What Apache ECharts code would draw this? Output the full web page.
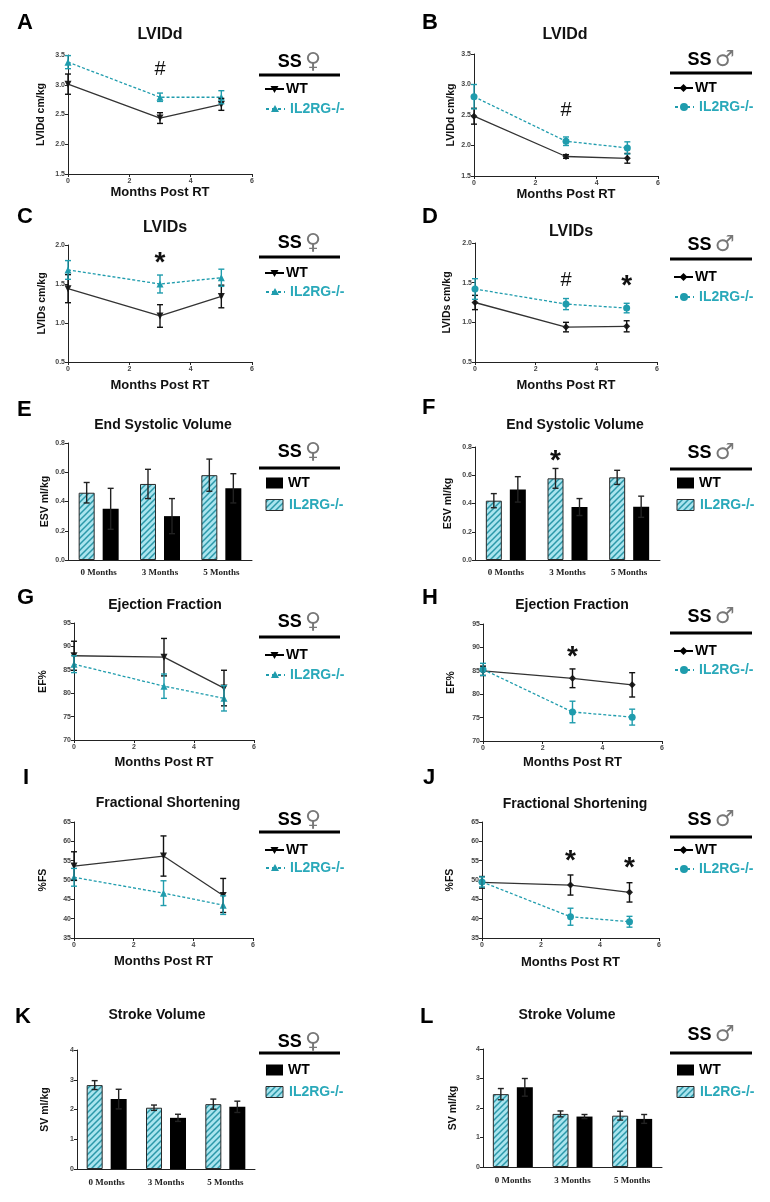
<!DOCTYPE html>
<html><head><meta charset="utf-8">
<script src="https://cdn.jsdelivr.net/npm/echarts@6/dist/echarts.min.js"></script>
<style>html,body{margin:0;padding:0;background:#fff}#c{width:770px;height:1202px}</style>
</head><body><div id="c"></div>
<script>
// ---------------- DATA ----------------
const lineMonths = [0, 3, 5];
const barCategories = ['0 Months', '3 Months', '5 Months'];

// A: LVIDd, female
const A_wt = [3.01, 2.44, 2.67], A_wtErr = [0.17, 0.09, 0.10];
const A_ko = [3.38, 2.79, 2.79], A_koErr = [0.11, 0.07, 0.11];
// B: LVIDd, male
const B_wt = [2.48, 1.82, 1.79], B_wtErr = [0.13, 0.03, 0.08];
const B_ko = [2.80, 2.07, 1.96], B_koErr = [0.20, 0.07, 0.10];
// C: LVIDs, female
const C_wt = [1.44, 1.09, 1.34], C_wtErr = [0.18, 0.145, 0.145];
const C_ko = [1.68, 1.50, 1.58], C_koErr = [0.12, 0.115, 0.11];
// D: LVIDs, male
const D_wt = [1.25, 0.94, 0.95], D_wtErr = [0.09, 0.06, 0.07];
const D_ko = [1.42, 1.23, 1.18], D_koErr = [0.13, 0.07, 0.06];
// E: ESV, female (bars)
const E_ko = [0.46, 0.52, 0.58], E_koErr = [0.07, 0.10, 0.11];
const E_wt = [0.35, 0.30, 0.49], E_wtErr = [0.14, 0.12, 0.10];
// F: ESV, male (bars)
const F_ko = [0.42, 0.578, 0.585], F_koErr = [0.05, 0.07, 0.05];
const F_wt = [0.50, 0.375, 0.377], F_wtErr = [0.09, 0.06, 0.075];
// G: EF, female
const G_wt = [88.0, 87.7, 81.1], G_wtErr = [3.1, 4.0, 3.8];
const G_ko = [86.2, 81.5, 78.9], G_koErr = [1.8, 2.6, 2.7];
// H: EF, male
const H_wt = [85.0, 83.4, 82.0], H_wtErr = [1.0, 2.0, 2.6];
const H_ko = [85.3, 76.2, 75.1], H_koErr = [1.3, 2.3, 1.7];
// I: FS, female
const I_wt = [53.6, 56.2, 46.0], I_wtErr = [3.7, 5.2, 4.4];
const I_ko = [50.7, 46.6, 43.5], I_koErr = [2.3, 3.2, 2.4];
// J: FS, male
const J_wt = [49.4, 48.7, 46.8], J_wtErr = [1.5, 2.6, 2.5];
const J_ko = [49.5, 40.5, 39.2], J_koErr = [1.3, 2.2, 1.4];
// K: SV, female (bars)
const K_ko = [2.82, 2.06, 2.18], K_koErr = [0.15, 0.09, 0.17];
const K_wt = [2.35, 1.72, 2.09], K_wtErr = [0.33, 0.12, 0.19];
// L: SV, male (bars)
const L_ko = [2.47, 1.80, 1.74], L_koErr = [0.19, 0.10, 0.15];
const L_wt = [2.70, 1.71, 1.63], L_wtErr = [0.30, 0.07, 0.15];

// significance annotations [x, y, symbol]
const A_sig = [[3, 3.26, '#']];
const B_sig = [[3, 2.58, '#']];
const C_sig = [[3, 1.76, '*']];
const D_sig = [[3, 1.53, '#'], [5, 1.46, '*']];
const F_sig = [['3 Months', 0.70, '*']];
const H_sig = [[3, 87.9, '*']];
const J_sig = [[3, 54.8, '*'], [5, 53.0, '*']];

const seriesNames = ['WT', 'IL2RG-/-'];

// ---------------- STYLE / LAYOUT ----------------
const FONT = 'Liberation Sans';
const TEAL = '#1f9cad', TEAL_TXT = '#2aa9ba', DARK = '#222';

function makeHatch() {
  const c = document.createElement('canvas'); c.width = 6; c.height = 6;
  const g = c.getContext('2d');
  g.fillStyle = '#a9e4ee'; g.fillRect(0, 0, 6, 6);
  g.strokeStyle = '#2b98a9'; g.lineWidth = 1.5;
  g.beginPath();
  g.moveTo(0, 6); g.lineTo(6, 0);
  g.moveTo(-3, 3); g.lineTo(3, -3);
  g.moveTo(3, 9); g.lineTo(9, 3);
  g.stroke();
  return c;
}
const hatch = makeHatch();

const grids = [], xAxes = [], yAxes = [], series = [], graphics = [];

function errSeries(gi, xs, means, errs, color, offset) {
  return {
    type: 'custom', xAxisIndex: gi, yAxisIndex: gi, z: 6, silent: true,
    data: means.map((m, i) => [xs[i], m, errs[i]]),
    renderItem(params, api) {
      const x = api.value(0), m = api.value(1), e = api.value(2);
      const t = api.coord([x, m + e]), b = api.coord([x, m - e]);
      const cx = t[0] + offset, w = 3;
      const st = { stroke: color, lineWidth: 1.4 };
      return { type: 'group', children: [
        { type: 'line', shape: { x1: cx, y1: t[1], x2: cx, y2: b[1] }, style: st },
        { type: 'line', shape: { x1: cx - w, y1: t[1], x2: cx + w, y2: t[1] }, style: st },
        { type: 'line', shape: { x1: cx - w, y1: b[1], x2: cx + w, y2: b[1] }, style: st }
      ]};
    }
  };
}

function sigMark(sig) {
  if (!sig) return undefined;
  return {
    symbol: 'circle', symbolSize: 1, itemStyle: { color: 'rgba(0,0,0,0)' },
    data: sig.map(s => ({
      coord: [s[0], s[1]],
      label: { show: true, position: 'inside', formatter: s[2], color: '#111',
        fontFamily: FONT, fontWeight: s[2] === '*' ? 'bold' : 'normal', fontSize: s[2] === '*' ? 28 : 20 }
    }))
  };
}

function markerShape(kind, cx, cy, color) {
  if (kind === 'tdown') return { type: 'polygon', shape: { points: [[cx - 4, cy - 3], [cx + 4, cy - 3], [cx, cy + 4]] }, style: { fill: color } };
  if (kind === 'tup') return { type: 'polygon', shape: { points: [[cx - 4, cy + 3], [cx + 4, cy + 3], [cx, cy - 4]] }, style: { fill: color } };
  if (kind === 'diamond') return { type: 'polygon', shape: { points: [[cx, cy - 4], [cx + 4, cy], [cx, cy + 4], [cx - 4, cy]] }, style: { fill: color } };
  return { type: 'circle', shape: { cx, cy, r: 4 }, style: { fill: color } };
}

function txt(text, x, y, font, fill, align) {
  return { type: 'text', x, y, silent: true, style: { text, font, fill, textAlign: align || 'center', align: align || 'center', textVerticalAlign: 'middle', verticalAlign: 'middle' } };
}

function addPanel(p) {
  const gi = grids.length;
  const isBar = p.kind === 'bar';
  grids.push({ left: p.g[0], top: p.g[1], width: p.g[2], height: p.g[3] });

  if (isBar) {
    xAxes.push({ type: 'category', gridIndex: gi, data: barCategories, boundaryGap: true,
      axisLine: { lineStyle: { color: DARK, width: 1 } },
      axisTick: { alignWithLabel: true, length: 3, lineStyle: { color: DARK } },
      axisLabel: { fontFamily: 'Liberation Serif', fontWeight: 'bold', fontSize: 9, color: '#222', margin: p.xm } });
  } else {
    xAxes.push({ type: 'value', gridIndex: gi, min: 0, max: 6, interval: 2,
      name: 'Months Post RT', nameLocation: 'middle', nameGap: p.xg,
      nameTextStyle: { fontFamily: FONT, fontWeight: 'bold', fontSize: 13, color: '#111' },
      axisLine: { onZero: false, lineStyle: { color: DARK, width: 1 } },
      axisTick: { length: 3, lineStyle: { color: DARK } },
      axisLabel: { fontFamily: FONT, fontWeight: 'bold', fontSize: 7, color: '#444', margin: 4 },
      splitLine: { show: false } });
  }
  const dec = p.y[3];
  yAxes.push({ type: 'value', gridIndex: gi, min: p.y[0], max: p.y[1], interval: p.y[2],
    name: p.yname, nameLocation: 'middle', nameGap: p.yg, nameRotate: 90,
    nameTextStyle: { fontFamily: FONT, fontWeight: 'bold', fontSize: 10.5, color: '#111' },
    axisLine: { show: true, onZero: false, lineStyle: { color: DARK, width: 1 } },
    axisTick: { show: true, length: 3, lineStyle: { color: DARK } },
    axisLabel: { fontFamily: FONT, fontWeight: 'bold', fontSize: 7, color: '#444', margin: 3, formatter: v => v.toFixed(dec) },
    splitLine: { show: false } });

  if (isBar) {
    series.push({ type: 'bar', name: seriesNames[1], xAxisIndex: gi, yAxisIndex: gi, data: p.ko,
      barWidth: 16, barGap: '50%',
      itemStyle: { color: { image: hatch, repeat: 'repeat' }, borderColor: '#2a2a2a', borderWidth: 1 },
      markPoint: sigMark(p.sig), z: 2 });
    series.push({ type: 'bar', name: seriesNames[0], xAxisIndex: gi, yAxisIndex: gi, data: p.wt,
      barWidth: 16, barGap: '50%', itemStyle: { color: '#000' }, z: 2 });
    const idx = [0, 1, 2];
    series.push(errSeries(gi, idx, p.ko, p.koErr, DARK, -12));
    series.push(errSeries(gi, idx, p.wt, p.wtErr, DARK, 12));
  } else {
    const fem = p.sex === 'f';
    series.push({ type: 'line', name: seriesNames[0], xAxisIndex: gi, yAxisIndex: gi,
      data: lineMonths.map((m, i) => [m, p.wt[i]]),
      symbol: fem ? 'triangle' : 'diamond', symbolRotate: fem ? 180 : 0, symbolSize: 7,
      itemStyle: { color: DARK }, lineStyle: { color: '#333', width: 1.3 }, z: 3 });
    series.push({ type: 'line', name: seriesNames[1], xAxisIndex: gi, yAxisIndex: gi,
      data: lineMonths.map((m, i) => [m, p.ko[i]]),
      symbol: fem ? 'triangle' : 'circle', symbolSize: 7,
      itemStyle: { color: TEAL }, lineStyle: { color: TEAL, width: 1.3, type: [3, 2] },
      markPoint: sigMark(p.sig), z: 4 });
    series.push(errSeries(gi, lineMonths, p.wt, p.wtErr, '#111', 0));
    series.push(errSeries(gi, lineMonths, p.ko, p.koErr, TEAL, 0));
  }

  // title and panel letter
  graphics.push(txt(p.title, p.t[0], p.t[1], 'bold ' + p.ts + 'px "' + FONT + '"', '#111'));
  graphics.push(txt(p.letter, p.l[0], p.l[1], 'bold 22px "' + FONT + '"', '#000', 'left'));

  // legend block
  const L = p.leg, x1 = L[0], x2 = L[1];
  const cxs = (x1 + x2) / 2;
  graphics.push({ type: 'text', x: cxs, y: L[2], silent: true, style: {
    text: '{s|SS} {g|' + (p.sex === 'f' ? '♀' : '♂') + '}',
    textAlign: 'center', align: 'center', textVerticalAlign: 'middle', verticalAlign: 'middle',
    rich: { s: { font: 'bold 18px "' + FONT + '"', fill: '#000', color: '#000' },
            g: { font: '22px "DejaVu Sans"', fill: '#777', color: '#777' } } } });
  graphics.push({ type: 'line', silent: true, shape: { x1, y1: L[3], x2, y2: L[3] }, style: { stroke: '#000', lineWidth: 3 } });
  if (isBar) {
    graphics.push({ type: 'rect', silent: true, shape: { x: x1 + 7, y: L[4] - 5.5, width: 17, height: 11 }, style: { fill: '#000' } });
    graphics.push(txt('WT', x1 + 29, L[4], 'bold 14px "' + FONT + '"', '#000', 'left'));
    graphics.push({ type: 'rect', silent: true, shape: { x: x1 + 7, y: L[5] - 5.5, width: 17, height: 11 }, style: { fill: { image: hatch, repeat: 'repeat' }, stroke: '#2a2a2a', lineWidth: 1 } });
    graphics.push(txt('IL2RG-/-', x1 + 30, L[5], 'bold 14px "' + FONT + '"', TEAL_TXT, 'left'));
  } else {
    const fem = p.sex === 'f';
    const off = fem ? 6 : 4;
    graphics.push({ type: 'line', silent: true, shape: { x1: x1 + off, y1: L[4], x2: x1 + off + 19, y2: L[4] }, style: { stroke: '#000', lineWidth: 2 } });
    graphics.push(markerShape(fem ? 'tdown' : 'diamond', x1 + off + 9.5, L[4], '#000'));
    graphics.push(txt('WT', x1 + off + 21, L[4], 'bold 14px "' + FONT + '"', '#000', 'left'));
    graphics.push({ type: 'line', silent: true, shape: { x1: x1 + off + 1, y1: L[5], x2: x1 + off + 20, y2: L[5] }, style: { stroke: TEAL, lineWidth: 2, lineDash: [3, 3] } });
    graphics.push(markerShape(fem ? 'tup' : 'circle', x1 + off + 10, L[5], TEAL));
    graphics.push(txt('IL2RG-/-', x1 + off + 25, L[5], 'bold 14px "' + FONT + '"', TEAL_TXT, 'left'));
  }
}

addPanel({ kind: 'line', sex: 'f', letter: 'A', wt: A_wt, wtErr: A_wtErr, ko: A_ko, koErr: A_koErr, sig: A_sig,
  g: [68, 55, 184, 119], y: [1.5, 3.5, 0.5, 1], yname: 'LVIDd cm/kg', yg: 21, xg: 12,
  title: 'LVIDd', ts: 16, t: [160, 35], l: [17, 23], leg: [259, 340, 62, 75, 89, 109] });
addPanel({ kind: 'line', sex: 'm', letter: 'B', wt: B_wt, wtErr: B_wtErr, ko: B_ko, koErr: B_koErr, sig: B_sig,
  g: [474, 54, 184, 122], y: [1.5, 3.5, 0.5, 1], yname: 'LVIDd cm/kg', yg: 17, xg: 11,
  title: 'LVIDd', ts: 16, t: [565, 35], l: [422, 23], leg: [670, 752, 60, 73, 88, 107] });
addPanel({ kind: 'line', sex: 'f', letter: 'C', wt: C_wt, wtErr: C_wtErr, ko: C_ko, koErr: C_koErr, sig: C_sig,
  g: [68, 245, 184, 117], y: [0.5, 2.0, 0.5, 1], yname: 'LVIDs cm/kg', yg: 20, xg: 17,
  title: 'LVIDs', ts: 16, t: [165, 228], l: [17, 217], leg: [259, 340, 243, 257, 273, 292] });
addPanel({ kind: 'line', sex: 'm', letter: 'D', wt: D_wt, wtErr: D_wtErr, ko: D_ko, koErr: D_koErr, sig: D_sig,
  g: [475, 243, 182, 119], y: [0.5, 2.0, 0.5, 1], yname: 'LVIDs cm/kg', yg: 22, xg: 17,
  title: 'LVIDs', ts: 16, t: [571, 232], l: [422, 217], leg: [670, 752, 245, 259, 277, 297] });
addPanel({ kind: 'bar', sex: 'f', letter: 'E', wt: E_wt, wtErr: E_wtErr, ko: E_ko, koErr: E_koErr,
  g: [68, 443, 184, 117], y: [0, 0.8, 0.2, 1], yname: 'ESV ml/kg', yg: 17, xm: 8,
  title: 'End Systolic Volume', ts: 14, t: [163, 425], l: [17, 410], leg: [259, 340, 452, 468, 483, 505] });
addPanel({ kind: 'bar', sex: 'm', letter: 'F', wt: F_wt, wtErr: F_wtErr, ko: F_ko, koErr: F_koErr, sig: F_sig,
  g: [475, 447, 185, 113], y: [0, 0.8, 0.2, 1], yname: 'ESV ml/kg', yg: 21, xm: 8,
  title: 'End Systolic Volume', ts: 14, t: [575, 425], l: [422, 408], leg: [670, 752, 453, 469, 483, 505] });
addPanel({ kind: 'line', sex: 'f', letter: 'G', wt: G_wt, wtErr: G_wtErr, ko: G_ko, koErr: G_koErr,
  g: [74, 623, 180, 117], y: [70, 95, 5, 0], yname: 'EF%', yg: 25, xg: 16,
  title: 'Ejection Fraction', ts: 14, t: [165, 605], l: [17, 598], leg: [259, 340, 622, 637, 655, 675] });
addPanel({ kind: 'line', sex: 'm', letter: 'H', wt: H_wt, wtErr: H_wtErr, ko: H_ko, koErr: H_koErr, sig: H_sig,
  g: [483, 624, 179, 117], y: [70, 95, 5, 0], yname: 'EF%', yg: 26, xg: 15,
  title: 'Ejection Fraction', ts: 14, t: [572, 605], l: [422, 598], leg: [670, 752, 617, 633, 651, 670] });
addPanel({ kind: 'line', sex: 'f', letter: 'I', wt: I_wt, wtErr: I_wtErr, ko: I_ko, koErr: I_koErr,
  g: [74, 822, 179, 116], y: [35, 65, 5, 0], yname: '%FS', yg: 25, xg: 17,
  title: 'Fractional Shortening', ts: 14, t: [168, 803], l: [23, 778], leg: [259, 340, 820, 832, 850, 868] });
addPanel({ kind: 'line', sex: 'm', letter: 'J', wt: J_wt, wtErr: J_wtErr, ko: J_ko, koErr: J_koErr, sig: J_sig,
  g: [482, 822, 177, 116], y: [35, 65, 5, 0], yname: '%FS', yg: 26, xg: 18,
  title: 'Fractional Shortening', ts: 14, t: [575, 804], l: [423, 778], leg: [670, 752, 820, 837, 850, 869] });
addPanel({ kind: 'bar', sex: 'f', letter: 'K', wt: K_wt, wtErr: K_wtErr, ko: K_ko, koErr: K_koErr,
  g: [77, 1050, 178, 119], y: [0, 4, 1, 0], yname: 'SV ml/kg', yg: 26, xm: 9,
  title: 'Stroke Volume', ts: 14, t: [157, 1015], l: [15, 1017], leg: [259, 340, 1042, 1053, 1070, 1092] });
addPanel({ kind: 'bar', sex: 'm', letter: 'L', wt: L_wt, wtErr: L_wtErr, ko: L_ko, koErr: L_koErr,
  g: [483, 1049, 179, 118], y: [0, 4, 1, 0], yname: 'SV ml/kg', yg: 24, xm: 9,
  title: 'Stroke Volume', ts: 14, t: [567, 1015], l: [420, 1017], leg: [670, 752, 1035, 1053, 1070, 1092] });

const chart = echarts.init(document.getElementById('c'));
chart.setOption({
  backgroundColor: '#fff',
  animation: false,
  grid: grids, xAxis: xAxes, yAxis: yAxes, series,
  graphic: { elements: graphics }
});
</script></body></html>
